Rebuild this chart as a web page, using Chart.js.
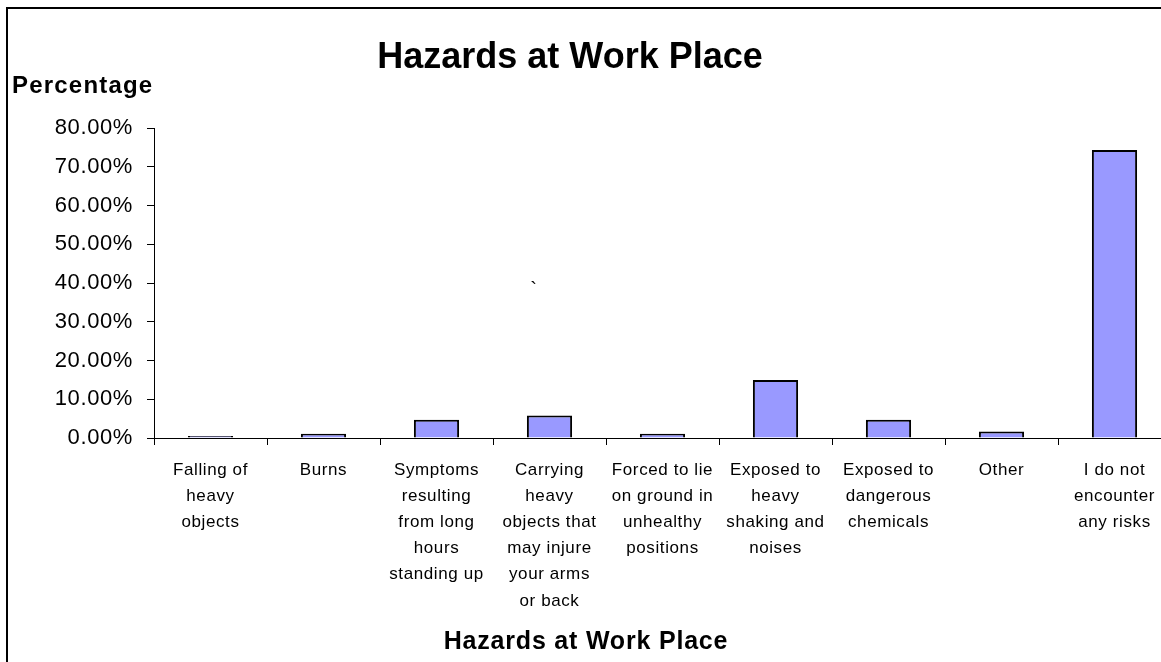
<!DOCTYPE html>
<html>
<head>
<meta charset="utf-8">
<script src="https://cdn.jsdelivr.net/npm/chart.js@4.4.1/dist/chart.umd.min.js"></script>
<style>
  html, body { margin: 0; padding: 0; background: #fff; overflow: hidden; }
  #wrap { width: 1180px; height: 662px; }
</style>
</head>
<body>
<div id="wrap"><canvas id="chart" width="1180" height="662"></canvas></div>
<script>
// data
const categories = [
    ['Falling of', 'heavy', 'objects'],
    ['Burns'],
    ['Symptoms', 'resulting', 'from long', 'hours', 'standing up'],
    ['Carrying', 'heavy', 'objects that', 'may injure', 'your arms', 'or back'],
    ['Forced to lie', 'on ground in', 'unhealthy', 'positions'],
    ['Exposed to', 'heavy', 'shaking and', 'noises'],
    ['Exposed to', 'dangerous', 'chemicals'],
    ['Other'],
    ['I do not', 'encounter', 'any risks']
]
const percentages = [0.5, 1.1, 4.7, 5.8, 1.1, 15.0, 4.7, 1.7, 74.3]
const yTicks = [0, 10, 20, 30, 40, 50, 60, 70, 80]

const chartTitle = 'Hazards at Work Place'
const yTitle = 'Percentage'
const xTitle = 'Hazards at Work Place'
const FONT = '"Liberation Sans", Arial, sans-serif'

// frame, background and free texts
const extras = {
    id: 'extras',
    beforeDraw(chart) {
        const ctx = chart.ctx
        ctx.save()
        ctx.fillStyle = '#fff'
        ctx.fillRect(0, 0, chart.width, chart.height)
        ctx.strokeStyle = '#000'
        ctx.lineWidth = 2
        ctx.beginPath()
        ctx.moveTo(7, chart.height)
        ctx.lineTo(7, 8)
        ctx.lineTo(chart.width, 8)
        ctx.stroke()
        ctx.restore()
        ctx.letterSpacing = '0.6px'
    },
    afterDraw(chart) {
        const ctx = chart.ctx
        const x = chart.scales.x
        const y = chart.scales.y
        ctx.save()
        ctx.fillStyle = '#000'
        ctx.textBaseline = 'alphabetic'

        ctx.letterSpacing = '0px'
        ctx.font = 'bold 36px ' + FONT
        ctx.textAlign = 'center'
        ctx.fillText(chartTitle, 570, 68)

        ctx.font = 'bold 24px ' + FONT
        ctx.textAlign = 'left'
        ctx.letterSpacing = '1.2px'
        ctx.fillText(yTitle, 12, 93)

        ctx.font = 'bold 25px ' + FONT
        ctx.textAlign = 'center'
        ctx.letterSpacing = '0.8px'
        ctx.fillText(xTitle, 586, 649)

        ctx.letterSpacing = '0px'
        ctx.font = '20px ' + FONT
        ctx.fillText('`', x.getPixelForValue(2.86), y.getPixelForValue(36.6))
        ctx.restore()
    }
}

new Chart(document.getElementById('chart'), {
    type: 'bar',
    data: {
        labels: categories,
        datasets: [{
            data: percentages,
            backgroundColor: '#9999ff',
            borderColor: '#000',
            borderWidth: 2,
            barPercentage: 0.4,
            categoryPercentage: 1
        }]
    },
    options: {
        responsive: false,
        animation: false,
        events: [],
        layout: { padding: { left: 0, top: 128, right: 9, bottom: 0 } },
        plugins: {
            legend: { display: false },
            title: { display: false },
            tooltip: { enabled: false }
        },
        scales: {
            x: {
                afterFit(s) { s.height = 224 },
                border: { display: true, color: '#000', width: 1 },
                grid: { offset: true, drawOnChartArea: false, drawTicks: true, tickLength: 7, color: '#000' },
                ticks: {
                    autoSkip: false, maxRotation: 0, minRotation: 0,
                    color: '#000', padding: 12,
                    font: { family: FONT, size: 17, lineHeight: 1.54 }
                }
            },
            y: {
                min: 0, max: 80,
                afterFit(s) { s.width = 154 },
                afterBuildTicks(s) { s.ticks = yTicks.map(v => ({ value: v })) },
                border: { display: true, color: '#000', width: 1 },
                grid: { drawOnChartArea: false, drawTicks: true, tickLength: 7, color: '#000' },
                ticks: {
                    color: '#000', padding: 14,
                    font: { family: FONT, size: 22 },
                    callback: v => v.toFixed(2) + '%'
                }
            }
        }
    },
    plugins: [extras]
})
</script>
</body>
</html>
